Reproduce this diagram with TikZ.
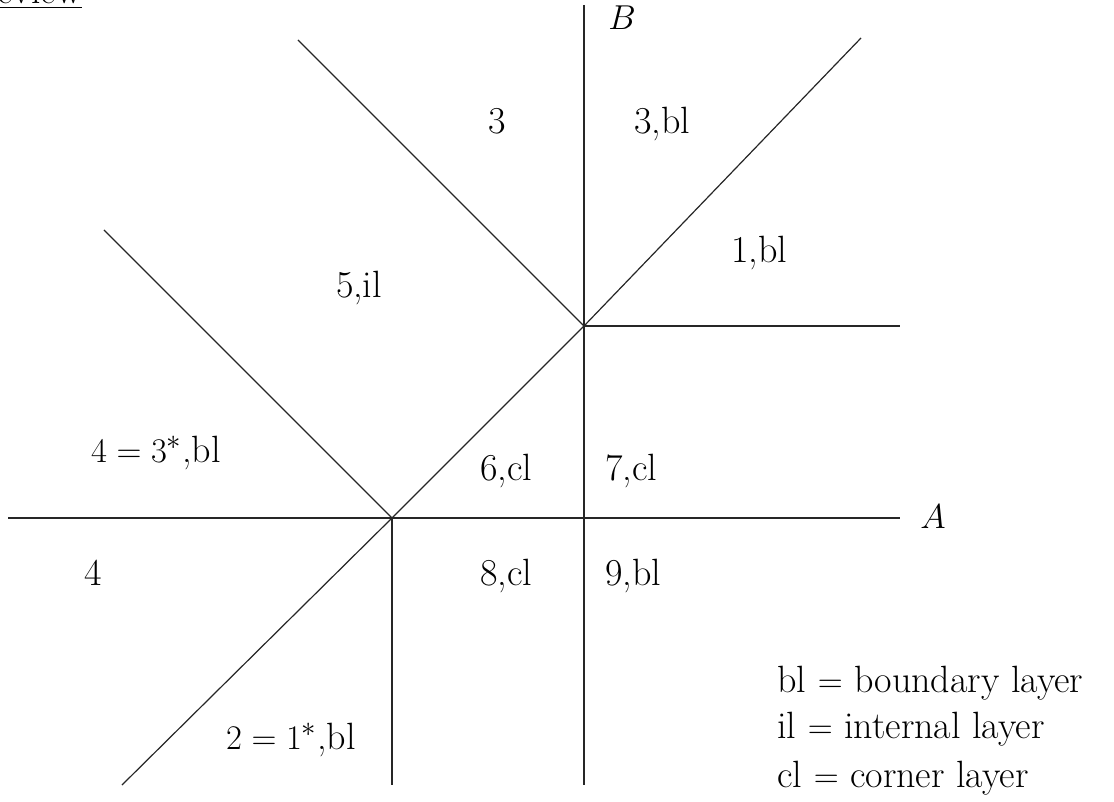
\documentclass[tikz,border=0pt]{standalone}
\begin{document}
\begin{tikzpicture}[x=0.5pt,y=-0.5pt,
  ln/.style={line width=0.6pt,black!85},
  lab/.style={font=\fontsize{19}{23}\selectfont,inner sep=0pt,anchor=base}]
\useasboundingbox (0,0) rectangle (1114,802);
% points
\coordinate (P) at (584,326);
\coordinate (Q) at (392,518);
\coordinate (Btop) at (584,5);
\coordinate (Bbot) at (584,785);
\coordinate (Aleft) at (8,518);
\coordinate (Aright) at (900,518);
\coordinate (Pright) at (900,326);
\coordinate (D1) at (861,38);
\coordinate (D2) at (122,785);
\coordinate (E1) at (298,40);
\coordinate (F1) at (104,230);
\coordinate (Qbot) at (392,785);
% lines
\draw[ln] (Btop) -- (Bbot);
\draw[ln] (Aleft) -- (Aright);
\draw[ln] (P) -- (Pright);
\draw[ln] (D2) -- (Q) -- (P) -- (D1);
\draw[ln] (E1) -- (P);
\draw[ln] (F1) -- (Q);
\draw[ln] (Q) -- (Qbot);
% axis labels
\node[lab] (B) at (622,30) {$B$};
\node[lab] (A) at (933,528) {$A$};
% region labels
\node[lab] (r3) at (497,134) {3};
\node[lab] (r3bl) at (662,134) {3,bl};
\node[lab] (r1) at (759,263) {1,bl};
\node[lab] (r5) at (359,298) {5,il};
\node[lab] (r4s) at (156,462) {$4=3^*$,bl};
\node[lab] (r6) at (506,480) {6,cl};
\node[lab] (r7) at (631,480) {7,cl};
\node[lab] (r4) at (93,585) {4};
\node[lab] (r8) at (506,585) {8,cl};
\node[lab] (r9) at (633,585) {9,bl};
\node[lab] (r2) at (291,749) {$2=1^*$,bl};
% legend
\node[lab,anchor=base west] (l1) at (777,692) {bl $=$ boundary layer};
\node[lab,anchor=base west] (l2) at (777,738) {il $=$ internal layer};
\node[lab,anchor=base west] (l3) at (777,787) {cl $=$ corner layer};
% clipped heading
\node[lab,anchor=base west] (hd) at (-3,4) {\underline{eview}};
\end{tikzpicture}
\end{document}
